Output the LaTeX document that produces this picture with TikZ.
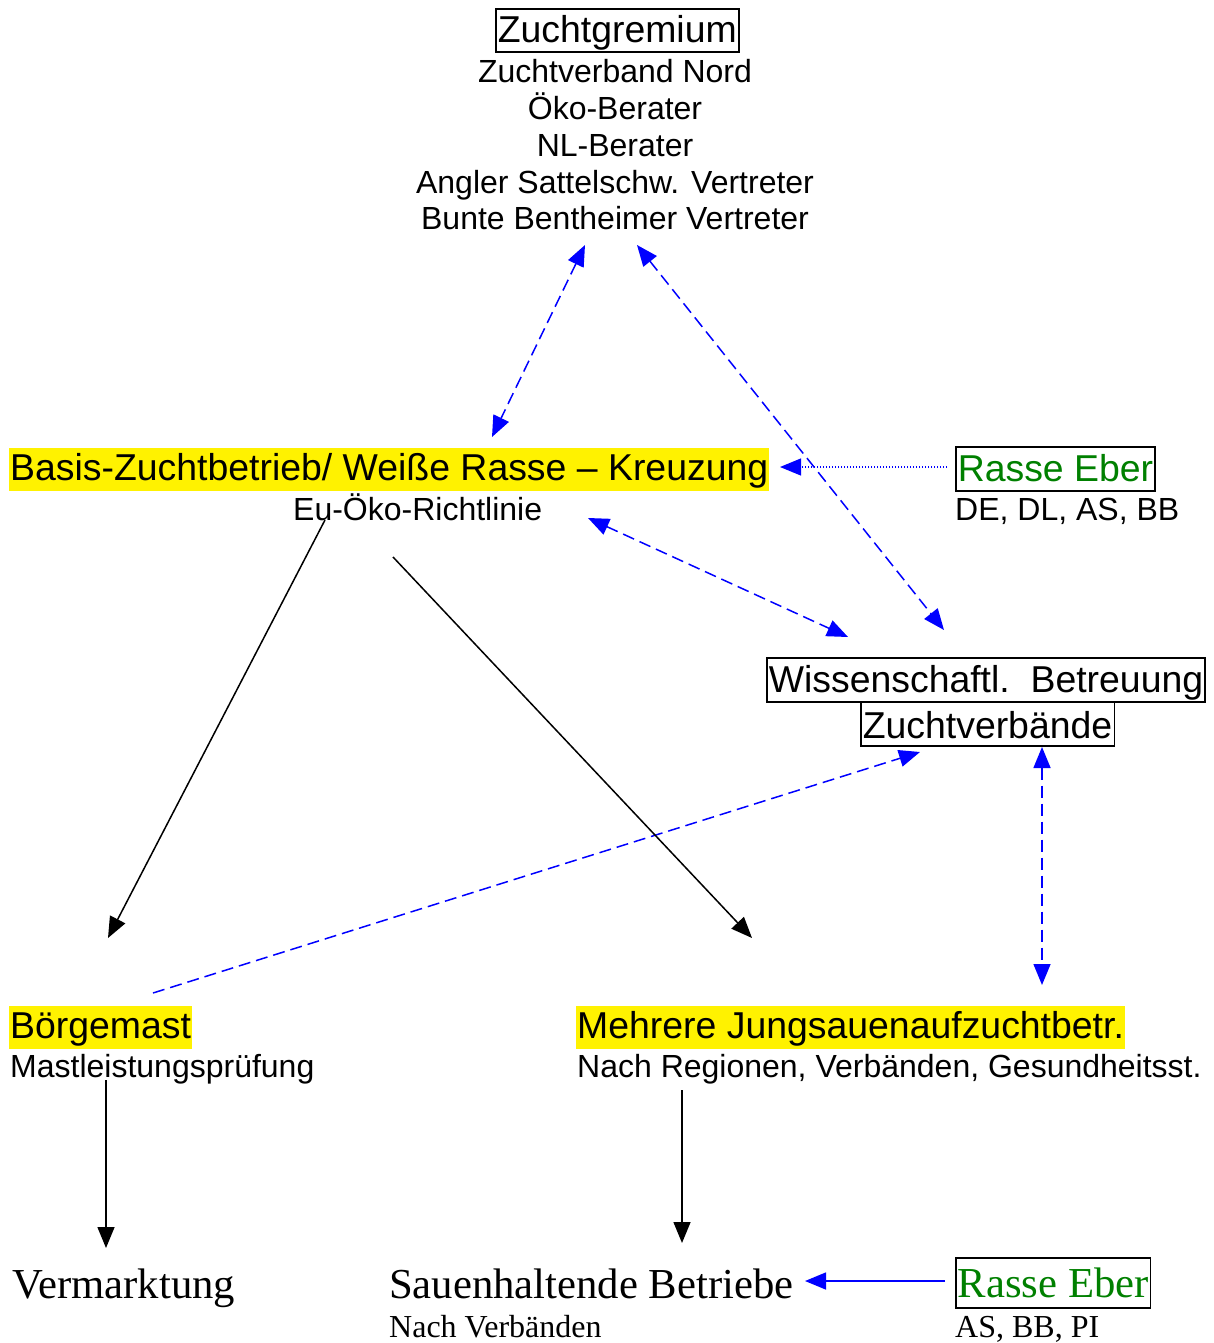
\documentclass[tikz,border=0pt]{standalone}
\usepackage{fontspec}
\setmainfont{Liberation Sans}
\newfontfamily\timesrm{Liberation Serif}
\usetikzlibrary{arrows.meta}

\definecolor{ebergreen}{RGB}{0,128,0}

\newcommand\headsize{\fontsize{37.4}{42}\selectfont}
\newcommand\subsize{\fontsize{32}{36.7}\selectfont}
\newcommand\bigserif{\timesrm\fontsize{42.7}{48}\selectfont}
\newcommand\smallserif{\timesrm\fontsize{32}{36}\selectfont}

\begin{document}
\begin{tikzpicture}[x=1pt,y=-1pt,
    every node/.style={inner sep=0pt, anchor=base west},
    boxed/.style={draw, line width=1.5pt, inner xsep=2pt, inner ysep=2pt,
                  text height=32pt, text depth=7pt},
    hilite/.style={fill=yellow, inner xsep=1pt, inner ysep=1.5pt,
                   text height=31pt, text depth=9pt},
    both/.style={{Triangle[length=21pt,width=17pt]}-{Triangle[length=21pt,width=17pt]}},
    dashlink/.style={blue, line width=1.5pt, dash pattern=on 12pt off 6pt},
    flow/.style={black, line width=1.5pt, -{Triangle[length=21pt,width=17pt]}}]

  \useasboundingbox (0,0) rectangle (1213,1343);

 % top: breeding board
  \node[boxed] (gremium) at (495,43) {\headsize Zuchtgremium};
  \node[align=center, anchor=base, font=\subsize] (members) at (615,229.8)
    {Zuchtverband Nord\\ Öko-Berater\\ NL-Berater\\
     Angler Sattelschw. Vertreter\\ Bunte Bentheimer Vertreter};

 % middle: base farm, boars, science
  \node[hilite] (basis) at (9,480) {\headsize Basis-Zuchtbetrieb/ Weiße Rasse – Kreuzung};
  \node (richtlinie) at (293,520) {\subsize Eu-Öko-Richtlinie};
  \node[boxed, text=ebergreen, text depth=8pt] (eber) at (955,481) {\headsize Rasse Eber};
  \node (eberlist) at (955,520) {\subsize DE, DL, AS, BB};
  \node[boxed, text depth=8pt] (wiss) at (766,692) {\headsize Wissenschaftl.\ \ Betreuung};
  \node[boxed, text height=34pt, text depth=6pt] (verbaende) at (860,738) {\headsize Zuchtverbände};

 % lower: fattening and gilt rearing
  \node[hilite] (boerge) at (9,1038) {\headsize Börgemast};
  \node (mast) at (10,1077) {\subsize Mastleistungsprüfung};
  \node[hilite] (jungsau) at (576,1038) {\headsize Mehrere Jungsauenaufzuchtbetr.};
  \node (regionen) at (577,1077) {\subsize Nach Regionen, Verbänden, Gesundheitsst.};

 % bottom row
  \node (vermarkt) at (12,1298) {\bigserif Vermarktung};
  \node (sauen) at (389,1298) {\bigserif Sauenhaltende Betriebe};
  \node (nachverb) at (389,1337) {\smallserif Nach Verbänden};
  \node[boxed, text=ebergreen, text height=37pt, text depth=9pt] (eberzwei) at (955,1297) {\bigserif Rasse Eber};
  \node (eberzweilist) at (955,1337) {\smallserif AS, BB, PI};

 % arrow end points
  \coordinate (gremL) at (585,245);
  \coordinate (gremR) at (637,245);
  \coordinate (basisTop) at (492,437);
  \coordinate (basisR) at (780,467);
  \coordinate (eberL) at (947,467);
  \coordinate (richtR) at (588,518);
  \coordinate (wissL) at (848,637);
  \coordinate (wissTop) at (944,630);
  \coordinate (richtL) at (325,520);
  \coordinate (richtM) at (393,557);
  \coordinate (boergeTop) at (108,938);
  \coordinate (jungsauTop) at (752,938);
  \coordinate (boergeR) at (153,993);
  \coordinate (verbL) at (920,752);
  \coordinate (verbBot) at (1042,747);
  \coordinate (jungsauR) at (1042,985);
  \coordinate (mastBot) at (106,1080);
  \coordinate (vermarktTop) at (106,1248);
  \coordinate (regionenBot) at (682,1090);
  \coordinate (sauenTop) at (682,1243);
  \coordinate (eberzweiL) at (945,1281);
  \coordinate (sauenR) at (805,1281);

 % blue links
  \draw[dashlink, both] (gremL) -- (basisTop);
  \draw[dashlink, both] (gremR) -- (wissTop);
  \draw[dashlink, both] (richtR) -- (wissL);
  \draw[dashlink, both] (verbBot) -- (jungsauR);
  \draw[dashlink, -{Triangle[length=21pt,width=17pt]}] (boergeR) -- (verbL);
  \draw[blue, line width=1.2pt, dash pattern=on 1.5pt off 1.5pt, -{Triangle[length=21pt,width=17pt]}] (eberL) -- (basisR);
  \draw[blue, line width=1.5pt, -{Triangle[length=21pt,width=17pt]}] (eberzweiL) -- (sauenR);

 % black flow
  \draw[flow] (richtL) -- (boergeTop);
  \draw[flow] (richtM) -- (jungsauTop);
  \draw[flow] (mastBot) -- (vermarktTop);
  \draw[flow] (regionenBot) -- (sauenTop);

\end{tikzpicture}
\end{document}
